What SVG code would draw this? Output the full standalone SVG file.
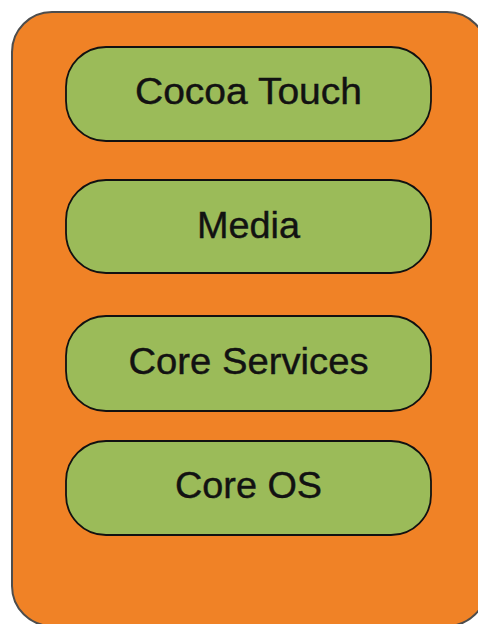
<svg xmlns="http://www.w3.org/2000/svg" width="478" height="624" viewBox="0 0 478 624">
  <style>
    .outer { fill: #F08226; stroke: #4d4d4d; stroke-width: 2; }
    .pill { fill: #9BBB59; stroke: #111111; stroke-width: 1.8; }
    .label { font-family: "Liberation Sans", Arial, sans-serif; font-size: 36px; fill: #121212; stroke: #121212; stroke-width: 0.4; text-anchor: middle; }
  </style>
  <rect width="478" height="624" fill="#ffffff"/>
  <g id="ios-stack">
    <rect class="outer" x="12" y="12" width="475" height="614" rx="40" ry="40"/>
  </g>
  <g id="cocoa-touch">
    <rect class="pill" x="66" y="47" width="365" height="94" rx="40" ry="40"/>
    <text class="label" x="248.5" y="104" textLength="227" lengthAdjust="spacingAndGlyphs">Cocoa Touch</text>
  </g>
  <g id="media">
    <rect class="pill" x="66" y="180" width="365" height="93" rx="40" ry="40"/>
    <text class="label" x="248.5" y="237.5" textLength="103" lengthAdjust="spacingAndGlyphs">Media</text>
  </g>
  <g id="core-services">
    <rect class="pill" x="66" y="316" width="365" height="95" rx="40" ry="40"/>
    <text class="label" x="248.5" y="374" textLength="240" lengthAdjust="spacingAndGlyphs">Core Services</text>
  </g>
  <g id="core-os">
    <rect class="pill" x="66" y="441" width="365" height="94" rx="40" ry="40"/>
    <text class="label" x="248.5" y="498" textLength="147" lengthAdjust="spacingAndGlyphs">Core OS</text>
  </g>
</svg>
